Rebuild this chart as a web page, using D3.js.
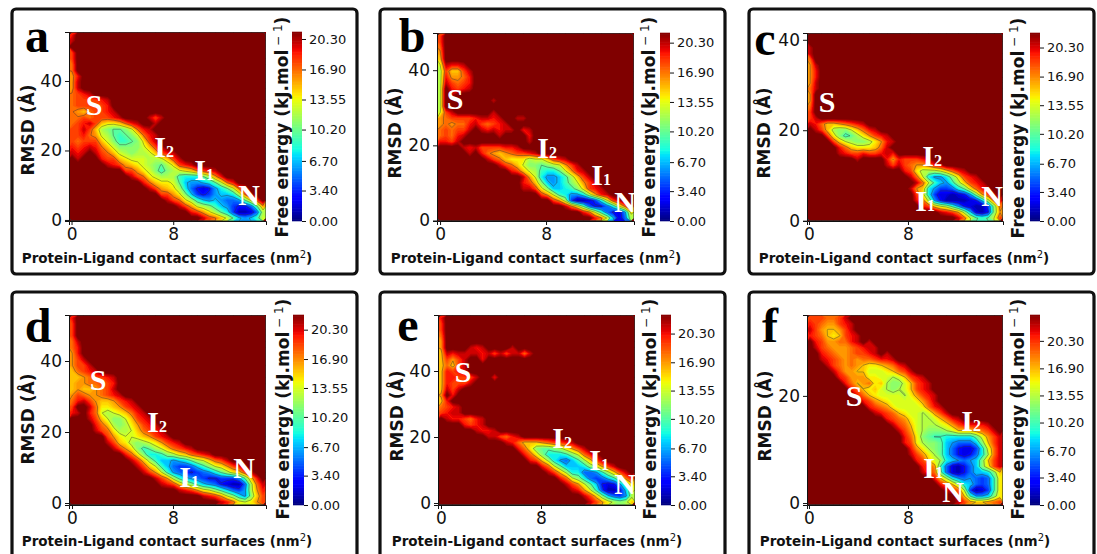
<!DOCTYPE html>
<html>
<head>
  <meta charset="utf-8">
  <title>free energy surfaces</title>
  <style>
    html, body { margin: 0; padding: 0; background: white; }
    svg { display: block; }
    text { font-family: "DejaVu Sans", sans-serif; }
    .axis text { font-family: "DejaVu Sans", sans-serif; font-size: 17px; fill: #111; }
    .axis path, .axis line { stroke: #111; stroke-width: 1; }
    .cbar text { font-family: "DejaVu Sans", sans-serif; font-size: 13px; fill: #111; }
    .cbar line { stroke: #111; stroke-width: 1; }
    .cbar path { display: none; }
    .title { font-weight: bold; fill: #111; }
    .panelLetter { font-family: "Liberation Serif", serif; font-weight: bold; font-size: 48px; fill: #000; text-anchor: middle; }
    .state { font-family: "Liberation Serif", serif; font-weight: bold; fill: white; }
  </style>
</head>
<body>
<script src="https://d3js.org/d3.v7.min.js"></script>
<script>
  // free energy, 33 columns x 32 rows, top row first.
  // each row is [first column, values]; one base-36 digit per cell, "." or anything missing is the dark red plateau
  var energyA = [
    [0,"j"],[0,"k"],[0,""],[0,"i"],[0,"i"],[0,"h"],[0,"h"],[0,"gj"],[0,"gk"],[0,"gk"],
    [0,"hijk"],[0,"hiiiijk"],[0,"hiiiiij"],[0,"hgfhiijk"],[0,"hhihiiijk....kik"],[0,"hijkifeefhjk..k"],
    [0,"iikifcbaabdhjk"],[0,"iijhgdca9abdhjk"],[0,"ihiiifdb99abeik"],[0,"jijkjhfdbbbbdfik"],
    [0,"kjk.kihfdcbccdfijk"],[0,".k...jiifedddccdfik"],[6,"kjigfedcbaceijk"],[9,"iigedb9bcdefhijk"],
    [10,"kihedccc9888acgj"],[12,"jhfeeda76678adhj"],[13,"kigfec8532368adhj"],[15,"iigeb74346778chk"],
    [16,"kihec97676556aei"],[18,"kigdcb9764335ag"],[20,"jigeca841125c"],[22,"kihfda7679d"]
  ];
  var energyB = [
    [0,"i"],[0,"i"],[0,"h"],[0,"g"],[0,"f"],[0,"dkjjk"],[0,"ciffik"],[0,"cjgghj"],[0,"ckihij"],[0,"c.jijk"],
    [0,"c.k"],[0,"c........k"],[0,"c"],[0,"dik......k"],[0,"ghiiiijkkjk..kk"],[0,"ghghhjkihijk"],
    [0,"hihiik.kjkjkk.jk"],[0,"hihjk.....k....j"],[0,"jjik...........k"],[4,"kjkiiiijjk"],
    [5,"k.jhgfghiijk"],[8,"kihfeeecddfijk"],[10,"kihfdbbabcdgik"],[12,"jifdc988adgjk"],
    [14,"kgd86679cfik"],[14,"jifb7679bdgik"],[14,"kkieb7789beijk"],[17,"igd98668cgjk"],
    [19,"igc411248dik"],[21,"khea53358dhk"],[24,"jhd95326e"],[26,"jhd725c"]
  ];
  var energyC = [
    [0,""],[0,""],[0,"k"],[0,"k"],[0,"h"],[0,"gk"],[0,"gj"],[0,"gj"],[0,"gk"],[0,"hk"],
    [0,"g"],[0,"g"],[0,"h"],[0,"i"],[0,"ik"],[0,"kjhffghijk"],
    [1,"kifcbbdfhjk"],[3,"ieb9acegijk"],[4,"ifdcbbcegjk"],[5,"jhfeeefhk"],
    [5,"kjiijiijkj"],[8,"k....jgjiiijk"],[13,"kikihgghjk"],[16,"jiecccdfhjk"],
    [17,"khd8668beijk"],[18,"khd9769cfijk"],[17,"kgf864458aehjk"],[18,"ie84221236bgik"],
    [18,"jhc631111237chk"],[19,"jifdc9632114bh"],[22,"kjigc7213bg"],[25,"khda9adi"]
  ];
  var energyD = [
    [0,"j"],[0,"i"],[0,"i"],[0,"i"],[0,"hk"],[0,"hj"],[0,"gj"],[0,"gik"],[0,"giik"],[0,"fhijk"],
    [0,"ffghiijk"],[0,"fgghhiij"],[0,"fgffghik"],[0,"gihgghijk"],[0,"hjkigffgijk"],[0,"i..kheefgijk"],
    [0,"jk.jhdcdefhjk"],[3,"kifdbbdfijk"],[4,"jhfcbcegijk"],[4,"kiheccdfhijk"],
    [6,"igeddefgijk"],[6,"kifecbcdegijk"],[7,"kigeb9acdfhijk"],[9,"jheb889bcefhijk"],
    [10,"kifc977678acdfhik"],[11,"kifd97544579bdegijk"],[12,"kigd965434568acefik"],[14,"kigc97654334446afj"],
    [15,"kjifdb976532115chk"],[18,"kjigedb97546cgj"],[22,"kjigdb86bfi"],[25,"kjhedegi"]
  ];
  var energyE = [
    [0,"j"],[0,"i"],[0,"i"],[0,"h"],[0,"g"],[0,"g....kjk....k"],[0,"fkjkkkkjkikikkhk"],[0,"figik..j"],[0,"fhfik"],[0,"fjijk"],
    [0,"fjjiiik..j"],[0,"fjiiik"],[0,"fkik"],[0,"g.j"],[0,"fj"],[0,"hijk"],
    [0,"ijkk"],[1,"kjjihjk"],[4,"jijk"],[6,"kjjk"],
    [8,"kkihjk"],[11,"kjhfffghiijk"],[13,"jhebaabcegik"],[14,"jheb8889bdhjk"],
    [15,"jifc86579cfik"],[17,"jhda7778bdgik"],[18,"kifc885569cfik"],[20,"jhdb854579dhj"],
    [21,"kigda73236af"],[22,"kjgd941137d"],[24,"kifb7546c"],[25,"kigecbcf"]
  ];
  var energyF = [
    [0,"iiihhik"],[0,"jihggijk"],[0,"kigffgik"],[0,"jihfefijk"],[1,"jigghhjk.k"],[1,"kihggghijkk"],
    [2,"jihgghiijk.k"],[2,"kjihghghhijjk"],[3,"kihghgfeefghjk"],[4,"kiggffdddefhik"],
    [5,"jigggeeddcdfijk"],[6,"jhfghefcbbdfijk"],[7,"jhfefdcbcdfijk"],[8,"jhfeddddcegijk"],
    [9,"jigfeddddegik"],[10,"jihgeddddehjk"],[11,"kjihfeddcdgik"],[13,"jihgedccdfhjk"],
    [14,"kihfdcccdegijjjjk"],[15,"kigdcbbbcdfffghik"],[16,"jheba9988888adgik"],[16,"jiecbba765557bfik"],
    [17,"jgecba7532248dhk"],[17,"kigeca7532358chk"],[18,"jifdc876567bfik"],[19,"jig9521357beik"],
    [19,"kiha52135778bf"],[21,"jfc86565459e"],[22,"jhfc875459e"],[23,"kjhc41249e"],[25,"jf9667be"],[25,"kigffghi"]
  ];

  var panelNames = ['a', 'b', 'c', 'd', 'e', 'f'];
  var energies = [energyA, energyB, energyC, energyD, energyE, energyF];
  var xDomains = [[-0.2, 15.3], [-0.23, 14.64], [-0.16, 15.68], [-0.24, 15.37], [-0.24, 15.52], [-0.16, 15.68]];
  var yDomains = [[-0.3, 54.1], [-0.13, 49.9], [-0.07, 41.5], [-0.56, 52.96], [-0.6, 56.97], [-0.37, 35.1]];
  var yTicks = [[0, 20, 40], [0, 20, 40], [0, 20, 40], [0, 20, 40], [0, 20, 40], [0, 20]];
  var xTicks = [0, 8];
  var colorMax = [21.08, 21.4, 22, 22, 22.5, 23.5];
  var colorTicks = [0, 3.4, 6.7, 10.2, 13.55, 16.9, 20.3];
  var lineLevels = [3.4, 6.7, 10.2, 13.55, 16.9];
  var yTitle = 'RMSD (Å)';

  // state labels per panel: name, subscript, x, baseline
  var statesA = [['S', '', 94, 115], ['I', '2', 160, 157], ['I', '1', 200, 180], ['N', '', 249, 205]];
  var statesB = [['S', '', 455, 109], ['I', '2', 543, 158], ['I', '1', 597, 185], ['N', '', 625, 212]];
  var statesC = [['S', '', 827, 112], ['I', '2', 928, 166], ['I', '1', 921, 211], ['N', '', 992, 206]];
  var statesD = [['S', '', 98, 390], ['I', '2', 153, 432], ['I', '1', 185, 487], ['N', '', 244, 478]];
  var statesE = [['S', '', 463, 382], ['I', '2', 558, 448], ['I', '1', 595, 470], ['N', '', 625, 494]];
  var statesF = [['S', '', 854, 406], ['I', '2', 967, 431], ['I', '1', 929, 478], ['N', '', 953, 502]];
  var states = [statesA, statesB, statesC, statesD, statesE, statesF];

  // page layout of each panel
  var layout = [
    {frame: [12, 9, 345, 265],  plot: [69, 32, 197, 189],   bar: [292, 32, 10, 189],   letter: [37, 52],   yLab: [28, 130],  xLab: [167, 263], barLab: [282, 127]},
    {frame: [380, 9, 345, 265], plot: [437, 33, 197, 188],  bar: [660, 33, 10, 188],   letter: [412, 52],  yLab: [395, 133], xLab: [536, 263], barLab: [649, 127]},
    {frame: [749, 9, 345, 265], plot: [807, 33, 196, 188],  bar: [1030, 33, 10, 188],  letter: [765, 55],  yLab: [764, 133], xLab: [904, 263], barLab: [1018, 128]},
    {frame: [12, 292, 345, 270],  plot: [69, 315, 197, 190],  bar: [293, 315, 11, 190],  letter: [38, 342],  yLab: [28, 419],  xLab: [167, 546], barLab: [283, 409]},
    {frame: [380, 292, 345, 270], plot: [438, 315, 197, 190], bar: [661, 315, 10, 190],  letter: [408, 341], yLab: [397, 416], xLab: [537, 546], barLab: [650, 409]},
    {frame: [749, 292, 345, 270], plot: [807, 315, 196, 190], bar: [1030, 315, 10, 190], letter: [770, 342], yLab: [765, 416], xLab: [905, 546], barLab: [1018, 409]}
  ];

  var cols = 33, rows = 32;
  var width = 1097, height = 554;

  // matplotlib jet
  var jetR = d3.scaleLinear().domain([0, 0.35, 0.66, 0.89, 1]).range([0, 0, 1, 1, 0.5]);
  var jetG = d3.scaleLinear().domain([0, 0.125, 0.375, 0.64, 0.91, 1]).range([0, 0, 1, 1, 0, 0]);
  var jetB = d3.scaleLinear().domain([0, 0.11, 0.34, 0.65, 1]).range([0.5, 1, 1, 0, 0]);
  var jet = function(t) {
    return d3.rgb(jetR(t) * 255, jetG(t) * 255, jetB(t) * 255).formatRgb();
  };

  var svg = d3.select('body')
    .append('svg')
    .attr('width', width)
    .attr('height', height);

  var defs = svg.append('defs');
  defs.append('filter').attr('id', 'soft')
    .append('feGaussianBlur').attr('stdDeviation', 0.7);

  // rows are sparse, expand to a flat grid. digits are in units of colorMax / 21
  var decode = function(rowList, max) {
    var values = [];
    rowList.forEach(function(row) {
      for (var c = 0; c < cols; c++) {
        var ch = row[1][c - row[0]];
        var code = (ch === undefined || ch === '.') ? 22 : parseInt(ch, 36);
        values.push(code * max / 21);
      }
    });
    return values;
  };

  panelNames.forEach(function(name, p) {
    var L = layout[p];
    var max = colorMax[p];
    var px = L.plot[0], py = L.plot[1], pw = L.plot[2], ph = L.plot[3];

    svg.append('rect')
      .attr('x', L.frame[0]).attr('y', L.frame[1])
      .attr('width', L.frame[2]).attr('height', L.frame[3])
      .attr('rx', 4)
      .attr('fill', 'white').attr('stroke', '#111').attr('stroke-width', 3.2);

    var xScale = d3.scaleLinear().domain(xDomains[p]).range([px, px + pw]);
    var yScale = d3.scaleLinear().domain(yDomains[p]).range([py + ph, py]);
    var gridX = d3.scaleLinear().domain([0, cols]).range(xDomains[p]);
    var gridY = d3.scaleLinear().domain([rows, 0]).range(yDomains[p]);

    var path = d3.geoPath(d3.geoTransform({
      point: function(x, y) {
        this.stream.point(xScale(gridX(x)), yScale(gridY(y)));
      }
    }));

    var values = decode(energies[p], max);
    var fillLevels = d3.range(0, 45).map(function(i) { return i * max / 44; });
    var contours = d3.contours().size([cols, rows]);

    defs.append('clipPath').attr('id', 'clip' + name)
      .append('rect').attr('x', px).attr('y', py).attr('width', pw).attr('height', ph);

    var plot = svg.append('g').attr('clip-path', 'url(#clip' + name + ')');
    plot.append('rect')
      .attr('x', px).attr('y', py).attr('width', pw).attr('height', ph)
      .attr('fill', jet(1));

    var soft = plot.append('g').attr('filter', 'url(#soft)');
    soft.selectAll('path')
      .data(contours.thresholds(fillLevels)(values))
      .enter()
      .append('path')
      .attr('d', path)
      .attr('fill', function(d) { return jet(Math.min(d.value / max, 1)); });

    plot.append('g').selectAll('path')
      .data(contours.thresholds(lineLevels)(values))
      .enter()
      .append('path')
      .attr('d', path)
      .attr('fill', 'none')
      .attr('stroke', '#333')
      .attr('stroke-opacity', 0.7)
      .attr('stroke-width', 0.6);

    svg.append('g')
      .attr('class', 'axis')
      .attr('transform', 'translate(0,' + (py + ph) + ')')
      .call(d3.axisBottom(xScale).tickValues(xTicks).tickFormat(d3.format('d')).tickSizeOuter(0).tickSize(4))
      .select('.domain').attr('stroke-width', 0.6);

    svg.append('g')
      .attr('class', 'axis')
      .attr('transform', 'translate(' + px + ',0)')
      .call(d3.axisLeft(yScale).tickValues(yTicks[p]).tickFormat(d3.format('d')).tickSizeOuter(0).tickSize(4))
      .select('.domain').attr('stroke-width', 0.6);

    // colour bar
    var barScale = d3.scaleLinear().domain([0, max]).range([L.bar[1] + L.bar[3], L.bar[1]]);
    svg.append('g').selectAll('rect')
      .data(d3.range(0, 120).map(function(i) { return i * max / 120; }))
      .enter()
      .append('rect')
      .attr('x', L.bar[0])
      .attr('width', L.bar[2])
      .attr('y', function(d) { return barScale(d + max / 120) - 0.3; })
      .attr('height', L.bar[3] / 120 + 0.6)
      .attr('fill', function(d) { return jet(d / max); });

    svg.append('g')
      .attr('class', 'cbar')
      .attr('transform', 'translate(' + (L.bar[0] + L.bar[2]) + ',0)')
      .call(d3.axisRight(barScale).tickValues(colorTicks).tickFormat(d3.format('.2f')).tickSize(4));

    // titles
    svg.append('text')
      .attr('class', 'title')
      .attr('font-size', 17)
      .attr('text-anchor', 'middle')
      .attr('transform', 'translate(' + L.yLab[0] + ',' + L.yLab[1] + ') rotate(-90)')
      .attr('dy', '0.36em')
      .text(yTitle);

    var xt = svg.append('text')
      .attr('class', 'title')
      .attr('font-size', 13.5)
      .attr('text-anchor', 'middle')
      .attr('x', L.xLab[0]).attr('y', L.xLab[1]);
    xt.append('tspan').text('Protein-Ligand contact surfaces (nm');
    xt.append('tspan').attr('dy', -5).attr('font-size', 10).attr('font-weight', 'normal').text('2');
    xt.append('tspan').attr('dy', 5).text(')');

    var bt = svg.append('text')
      .attr('class', 'title')
      .attr('font-size', 17)
      .attr('text-anchor', 'middle')
      .attr('transform', 'translate(' + L.barLab[0] + ',' + L.barLab[1] + ') rotate(-90)')
      .attr('dy', '0.36em');
    bt.append('tspan').text('Free energy (kJ.mol');
    bt.append('tspan').attr('dy', -6).attr('font-size', 12).attr('font-weight', 'normal').text(' − 1');
    bt.append('tspan').attr('dy', 6).text(')');

    svg.append('text')
      .attr('class', 'panelLetter')
      .attr('x', L.letter[0]).attr('y', L.letter[1])
      .text(name);

    states[p].forEach(function(s) {
      svg.append('text')
        .attr('class', 'state')
        .attr('font-size', 30)
        .attr('text-anchor', 'middle')
        .attr('x', s[2]).attr('y', s[3])
        .text(s[0]);
      if (s[1]) {
        svg.append('text')
          .attr('class', 'state')
          .attr('font-size', 16)
          .attr('x', s[2] + 6).attr('y', s[3])
          .text(s[1]);
      }
    });
  });
</script>
</body>
</html>
